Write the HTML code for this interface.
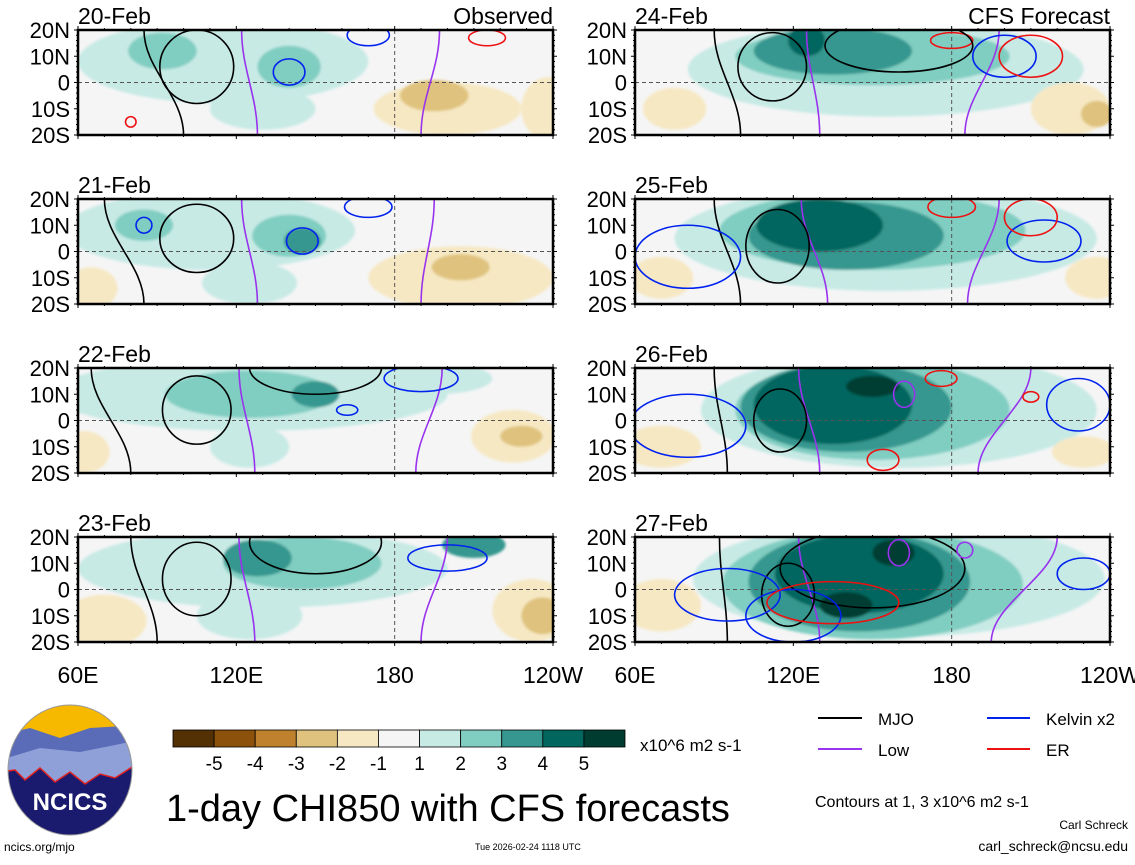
<!DOCTYPE html>
<html><head><meta charset="utf-8">
<style>
body{margin:0;background:#fff;width:1135px;height:860px;overflow:hidden;font-family:"Liberation Sans",sans-serif;}
svg text{font-family:"Liberation Sans",sans-serif;}
</style></head>
<body>
<svg id="chart" width="1135" height="860" viewBox="0 0 1135 860" xmlns="http://www.w3.org/2000/svg">
<defs>
<filter id="sm" x="-20%" y="-20%" width="140%" height="140%"><feGaussianBlur stdDeviation="1.2"/></filter>
</defs>
<g id="panels"></g>
<g>
<clipPath id="lc"><ellipse cx="70" cy="770" rx="62" ry="65"/></clipPath>
<g clip-path="url(#lc)">
<rect x="0" y="700" width="140" height="140" fill="#1a1a6e"/>
<rect x="0" y="700" width="140" height="45" fill="#f7b800"/>
<path d="M0 735 L30 728 L60 738 L90 728 L140 725 L140 790 L0 800Z" fill="#5a6bb8"/>
<path d="M0 760 L40 748 L80 752 L140 740 L140 780 L0 790Z" fill="#8f9fd8"/>
<path d="M0 772 L15 770 L25 780 L40 768 L55 782 L70 772 L85 784 L100 774 L115 778 L140 762 L140 840 L0 840Z" fill="#1a1a6e" stroke="#e02020" stroke-width="1.5"/>
</g>
<ellipse cx="70" cy="770" rx="62" ry="65" fill="none" stroke="#999" stroke-width="1"/>
<text x="70" y="810" text-anchor="middle" font-size="24" font-weight="bold" fill="#fff">NCICS</text>
</g>
<text x="4" y="851" font-size="12">ncics.org/mjo</text>
<text x="475" y="850" font-size="9">Tue 2026-02-24 1118 UTC</text>
<g id="colorbar"></g>
<text x="640" y="751" font-size="17">x10^6 m2 s-1</text>
<text x="166" y="821" font-size="38">1-day CHI850 with CFS forecasts</text>
<g>
<line x1="818" y1="718" x2="862" y2="718" stroke="#000" stroke-width="2"/>
<text x="878" y="725" font-size="17">MJO</text>
<line x1="987" y1="718" x2="1030" y2="718" stroke="#0022ee" stroke-width="2"/>
<text x="1046" y="725" font-size="17">Kelvin x2</text>
<line x1="818" y1="749" x2="862" y2="749" stroke="#9933ee" stroke-width="2"/>
<text x="878" y="756" font-size="17">Low</text>
<line x1="987" y1="749" x2="1030" y2="749" stroke="#ee1111" stroke-width="2"/>
<text x="1046" y="756" font-size="17">ER</text>
</g>
<text x="815" y="807" font-size="16">Contours at 1, 3 x10^6 m2 s-1</text>
<text x="1128" y="829" font-size="12" text-anchor="end">Carl Schreck</text>
<text x="1128" y="851" font-size="14" text-anchor="end">carl_schreck@ncsu.edu</text>
</svg>
<script>
const levelColors=["#543005","#8c510a","#bf812d","#dfc27d","#f6e8c3","#f5f5f5","#c7eae5","#80cdc1","#35978f","#01665e","#003c30"];
const levelLabels=["-5","-4","-3","-2","-1","1","2","3","4","5"];
const panelDates=["20-Feb","21-Feb","22-Feb","23-Feb","24-Feb","25-Feb","26-Feb","27-Feb"];
const latTicks=["20N","10N","0","10S","20S"];
const lonTicks=["60E","120E","180","120W"];
// blobs: [lon, lat, halfWidthDeg, halfHeightDeg, level]
const blobs0=[[115,8,55,16,1],[130,-10,20,8,1],[92,12,13,7,2],[140,6,12,8,2],[200,-10,28,10,-1],[195,-5,13,6,-2],[238,-10,10,12,-1]];
const blobs1=[[110,8,55,15,1],[125,-12,18,8,1],[85,10,11,6,2],[140,6,14,8,2],[145,4,7,5,3],[205,-10,35,12,-1],[205,-6,11,5,-2],[65,-14,10,8,-1]];
const blobs2=[[125,10,75,14,1],[125,-10,15,8,1],[125,10,32,9,2],[150,10,9,5,3],[62,-12,10,8,-1],[225,-6,16,10,-1],[228,-6,8,4,-2],[195,16,22,6,1]];
const blobs3=[[130,8,70,15,1],[125,-10,20,9,1],[145,10,30,10,2],[128,12,13,7,3],[210,17,12,5,3],[70,-12,16,10,-1],[232,-8,15,12,-1],[236,-10,8,7,-2]];
const blobs4=[[155,5,75,18,1],[150,10,52,11,2],[135,12,30,9,3],[125,16,7,6,4],[225,-10,15,10,-1],[235,-12,6,5,-2],[75,-10,12,8,-1]];
const blobs5=[[155,5,80,20,1],[150,8,58,15,2],[140,6,37,13,3],[130,10,24,10,4],[70,-10,12,8,-1],[235,-10,12,8,-1]];
const blobs6=[[160,4,75,22,1],[150,4,52,19,2],[140,5,40,17,3],[135,6,30,15,4],[150,13,10,4,5],[70,-10,15,8,-1],[230,-12,12,6,-1]];
const blobs7=[[160,4,78,22,1],[150,2,57,21,2],[145,3,42,19,3],[145,6,32,15,4],[158,14,8,5,5],[140,-6,10,5,5],[70,-6,15,10,-1]];
const blobsAll=[blobs0,blobs1,blobs2,blobs3,blobs4,blobs5,blobs6,blobs7];
// closed contours: [type, lon, lat, halfWidthDeg, halfHeightDeg]
const rings0=[["mjo",105,6,14,14],["kel",140,4,6,5],["kel",170,18,8,4],["er",215,17,7,3],["er",80,-15,2,2]];
const rings1=[["mjo",105,5,14,13],["kel",145,4,6,5],["kel",170,17,9,4],["kel",85,10,3,3]];
const rings2=[["mjo",105,4,13,13],["kel",162,4,4,2],["kel",190,16,14,5],["mjo",150,20,25,10]];
const rings3=[["mjo",105,4,13,14],["kel",200,12,15,5],["mjo",150,18,25,12]];
const rings4=[["mjo",112,6,13,13],["er",180,16,8,3],["kel",200,10,12,8],["er",210,10,12,8],["mjo",160,14,28,10]];
const rings5=[["mjo",114,2,12,14],["er",180,17,9,4],["kel",215,4,14,8],["er",210,13,10,7],["kel",80,-2,20,12]];
const rings6=[["mjo",115,0,10,12],["er",176,16,6,3],["er",154,-15,6,4],["kel",80,-2,22,12],["kel",228,6,12,10],["er",210,9,3,2],["low",162,10,4,5]];
const rings7=[["mjo",118,-2,10,12],["mjo",150,8,35,15],["kel",95,-2,20,10],["kel",120,-10,18,10],["er",135,-5,25,8],["low",160,14,4,5],["low",185,15,3,3],["kel",230,6,10,6]];
const ringsAll=[rings0,rings1,rings2,rings3,rings4,rings5,rings6,rings7];
const lowLine1=[[122,128],[122,128],[121,127],[121,127],[125,130],[123,133],[122,130],[122,130]];
const lowLine2=[[197,190],[195,190],[198,188],[200,190],[198,185],[198,186],[210,190],[220,195]];
const blackLine=[[85,100],[70,85],[65,80],[80,90],[90,100],[90,100],[90,95],[92,95]];

const NS="http://www.w3.org/2000/svg";
const colX=[78,635], rowY=[30,199,368,537], W=475, H=105;
function mk(t,a,p){const e=document.createElementNS(NS,t);for(const k in a)e.setAttribute(k,a[k]);p.appendChild(e);return e;}
function colorOf(l){return levelColors[l+5];}
const root=document.getElementById('panels');
for(let i=0;i<8;i++){
  const col=i<4?0:1,row=i%4,x0=colX[col],y0=rowY[row];
  const sx=lon=>x0+(lon-60)/180*W, sy=lat=>y0+(20-lat)/40*H;
  const g=mk('g',{},root);
  
  
  const cp=mk('clipPath',{id:'cp'+i},g);
  mk('rect',{x:x0,y:y0,width:W,height:H},cp);
  const inner=mk('g',{'clip-path':'url(#cp'+i+')'},g);
  mk('rect',{x:x0,y:y0,width:W,height:H,fill:levelColors[5]},inner);
  const fg=mk('g',{filter:'url(#sm)'},inner);
  const bl=blobsAll[i].slice().sort((a,b)=>Math.abs(a[4])-Math.abs(b[4]));
  bl.forEach(b=>{
    const e=mk('ellipse',{cx:sx(b[0]),cy:sy(b[1]),rx:b[2]/180*W,ry:b[3]/40*H,fill:colorOf(b[4])},fg);
    
    
  });
  mk('line',{x1:x0,y1:sy(0),x2:x0+W,y2:sy(0),stroke:'#555','stroke-dasharray':'4,3','stroke-width':1},inner);
  mk('line',{x1:sx(180),y1:y0,x2:sx(180),y2:y0+H,stroke:'#555','stroke-dasharray':'4,3','stroke-width':1},inner);
  const cmap={mjo:'#000',kel:'#0022ee',er:'#ee1111',low:'#9933ee'};
  const lines=[[lowLine1[i],'#9933ee'],[lowLine2[i],'#9933ee'],[blackLine[i],'#000']];
  lines.forEach(L=>{
    const a=L[0];
    const p=mk('path',{d:`M${sx(a[0])} ${y0} C${sx(a[0])} ${sy(5)} ${sx(a[1])} ${sy(-5)} ${sx(a[1])} ${y0+H}`,fill:'none',stroke:L[1],'stroke-width':1.6},inner);
    
    
  });
  ringsAll[i].forEach(r=>{
    const e=mk('ellipse',{cx:sx(r[1]),cy:sy(r[2]),rx:r[3]/180*W,ry:r[4]/40*H,fill:'none',stroke:cmap[r[0]],'stroke-width':1.6},inner);
    
    
  });
  for(let lon=60;lon<=240;lon+=10){
    const big=(lon%60===0);
    mk('line',{x1:sx(lon),y1:y0-(big?4:2),x2:sx(lon),y2:y0,stroke:'#000'},g);
    mk('line',{x1:sx(lon),y1:y0+H,x2:sx(lon),y2:y0+H+(big?4:2),stroke:'#000'},g);
  }
  for(let lat=-20;lat<=20;lat+=2){
    const big=(lat%10===0);
    mk('line',{x1:x0-(big?4:2),y1:sy(lat),x2:x0,y2:sy(lat),stroke:'#000'},g);
    mk('line',{x1:x0+W,y1:sy(lat),x2:x0+W+(big?4:2),y2:sy(lat),stroke:'#000'},g);
  }
  mk('rect',{x:x0,y:y0,width:W,height:H,fill:'none',stroke:'#000','stroke-width':2.5},g);
  const t=mk('text',{x:x0,y:y0-6,'font-size':23},g);t.textContent=panelDates[i];
  
  
  latTicks.forEach((s,k)=>{
    const tt=mk('text',{x:x0-8,y:y0+k*H/4+8,'font-size':22,'text-anchor':'end'},g);tt.textContent=s;
    
    
  });
  if(row===3){
    lonTicks.forEach((s,k)=>{
      const tt=mk('text',{x:x0+k*W/3,y:y0+H+41,'font-size':23,'text-anchor':'middle'},g);tt.textContent=s;
      
      
    });
  }
}
const t1=mk('text',{x:553,y:24,'font-size':23,'text-anchor':'end'},root);t1.textContent='Observed';


const t2=mk('text',{x:1110,y:24,'font-size':23,'text-anchor':'end'},root);t2.textContent='CFS Forecast';


const cb=document.getElementById('colorbar');
const cbx=173,cbw=452/levelColors.length;
levelColors.forEach((c,k)=>{
  const r=mk('rect',{x:cbx+k*cbw,y:730,width:cbw,height:17,fill:c,stroke:'#000','stroke-width':0.8},cb);
  
  
});
levelLabels.forEach((s,k)=>{
  const tt=mk('text',{x:cbx+(k+1)*cbw,y:770,'font-size':19,'text-anchor':'middle'},cb);tt.textContent=s;
  
  
});
</script>
</body></html>
